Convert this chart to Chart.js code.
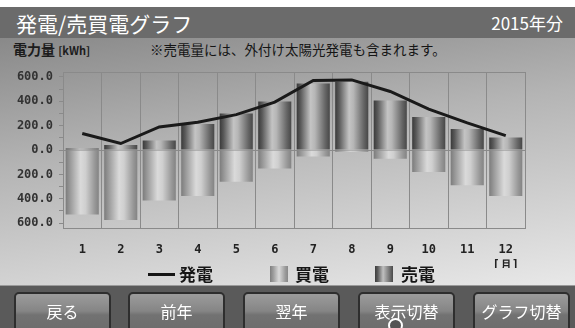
<!DOCTYPE html>
<html lang="ja">
<head>
<meta charset="UTF-8">
<title>発電/売買電グラフ</title>
<script src="https://cdn.jsdelivr.net/npm/chart.js"></script>
<style>
  html, body { margin: 0; padding: 0; }
  body { width: 575px; height: 328px; position: relative; overflow: hidden; background: #fff;
         font-family: "Noto Sans CJK JP", "Noto Sans", sans-serif; }
  .header { position: absolute; left: 0; top: 7px; width: 575px; height: 31px; background: #6b6b6b; }
  .title { position: absolute; left: 16px; top: 9px; font-size: 21px; color: #fff; line-height: 28px; }
  .year { position: absolute; right: 12px; top: 11px; font-size: 17px; color: #fff; line-height: 24px; }
  .body { position: absolute; left: 0; top: 38px; width: 575px; height: 247px;
          background: linear-gradient(172deg, #898989 0%, #b4b4b4 40%, #e8e8e8 100%); }
  .unit { position: absolute; left: 13px; top: 40px; font-size: 14px; font-weight: bold; color: #1c1c1c; line-height: 18px; }
  .unit small { font-size: 11px; }
  .note { position: absolute; left: 150px; top: 40px; font-size: 13.5px; color: #151515; line-height: 18px; }
  canvas { position: absolute; left: 0; top: 0; }
  .legend { position: absolute; top: 263px; left: 0; height: 22px; font-size: 17px; font-weight: bold; color: #151515; }
  .lg { position: absolute; top: 0; line-height: 22px; white-space: nowrap; }
  .swline { position: absolute; left: 148px; top: 10px; width: 27px; height: 3px; background: #151515; }
  .swbox { position: absolute; top: 3px; width: 18px; height: 16px; }
  .buy { background: linear-gradient(90deg, #7e7e7e, #a0a0a0 20%, #dadada 50%, #9a9a9a 85%, #888); }
  .sell { background: linear-gradient(90deg, #3c3c3c, #5a5a5a 15%, #c0c0c0 45%, #6a6a6a 85%, #4a4a4a); }
  .bar { position: absolute; left: 0; top: 285px; width: 575px; height: 43px; background: #5a5a5a; border-top: 1px solid #9a9a9a; box-sizing: border-box; }
  .btn { position: absolute; top: 292px; width: 97px; height: 42px; box-sizing: border-box;
         border: 2px solid #2e2e2e; border-radius: 5px; color: #fff; font-size: 16px; text-align: center;
         line-height: 34px; background: linear-gradient(180deg, #9c9c9c 0%, #858585 45%, #727272 55%, #6c6c6c 100%); }
  .ring { position: absolute; left: 388px; top: 318px; width: 11px; height: 11px; border: 2px solid #fff; border-radius: 50%; background: #555; }
</style>
</head>
<body>
<div class="header"></div>
<div class="title">発電/売買電グラフ</div>
<div class="year">2015年分</div>
<div class="body"></div>
<div class="unit">電力量 <small>[kWh]</small></div>
<div class="note">※売電量には、外付け太陽光発電も含まれます。</div>
<canvas id="c" width="575" height="328"></canvas>
<div class="legend">
  <div class="swline"></div><div class="lg" style="left:179px">発電</div>
  <div class="swbox buy" style="left:270px"></div><div class="lg" style="left:295px">買電</div>
  <div class="swbox sell" style="left:375px"></div><div class="lg" style="left:401px">売電</div>
</div>
<div class="bar"></div>
<div class="btn" style="left:14px">戻る</div>
<div class="btn" style="left:128px">前年</div>
<div class="btn" style="left:243px">翌年</div>
<div class="btn" style="left:358px">表示切替</div>
<div class="btn" style="left:473px">グラフ切替</div>
<div class="ring"></div>
<script>
const months = ['1', '2', '3', '4', '5', '6', '7', '8', '9', '10', '11', ['12', '[月]']];
const generation = [135, 53, 189, 227, 290, 393, 570, 575, 480, 336, 222, 118];
const purchased = [-530, -575, -415, -377, -260, -151, -53, -14, -72, -181, -290, -377];
const sold = [12, 42, 77, 214, 300, 398, 545, 561, 406, 271, 173, 102];
const yTicks = [-640, -600, -500, -400, -300, -200, -100, 0, 100, 200, 300, 400, 500, 600, 640];

const gridColor = '#8a8a8a';
const tickFont = { family: 'DejaVu Sans Mono', size: 12, weight: 'bold', lineHeight: 1.4 };

// cylinder look: horizontal gradient across each bar
function barGradient(ctx, stops) {
  const chart = ctx.chart;
  const xs = chart.scales.x;
  if (!chart.chartArea || !xs || ctx.type !== 'data') return '#999';
  const w = xs.width / months.length * 0.86;
  const cx = xs.getPixelForValue(ctx.dataIndex);
  const g = chart.ctx.createLinearGradient(cx - w / 2, 0, cx + w / 2, 0);
  stops.forEach(s => g.addColorStop(s[0], s[1]));
  return g;
}
const sellStops = [[0, '#3a3a3a'], [0.12, '#5a5a5a'], [0.42, '#c4c4c4'], [0.55, '#b6b6b6'], [0.86, '#666'], [1, '#474747']];
const buyStops = [[0, '#7c7c7c'], [0.15, '#9c9c9c'], [0.45, '#dadada'], [0.6, '#cfcfcf'], [0.88, '#979797'], [1, '#838383']];

new Chart(document.getElementById('c'), {
  type: 'bar',
  data: {
    labels: months,
    datasets: [
      { type: 'line', label: '発電', data: generation, borderColor: '#1a1a1a', borderWidth: 3,
        pointRadius: 0, tension: 0, order: 0 },
      { label: '買電', data: purchased, backgroundColor: c => barGradient(c, buyStops),
        barPercentage: 0.86, categoryPercentage: 1, grouped: false, order: 1 },
      { label: '売電', data: sold, backgroundColor: c => barGradient(c, sellStops),
        barPercentage: 0.86, categoryPercentage: 1, grouped: false, order: 1 }
    ]
  },
  options: {
    responsive: false,
    animation: false,
    layout: { padding: { top: 72, right: 50, bottom: 60, left: 0 } },
    plugins: { legend: { display: false }, tooltip: { enabled: false } },
    scales: {
      x: {
        afterFit: s => { s.height = 40; },
        grid: { offset: true, color: gridColor, drawTicks: false },
        border: { color: gridColor },
        ticks: { padding: 13, color: '#222', font: tickFont, autoSkip: false, maxRotation: 0 }
      },
      y: {
        min: -640, max: 640,
        afterBuildTicks: s => { s.ticks = yTicks.map(v => ({ value: v })); },
        afterFit: s => { s.width = 63; },
        border: { color: gridColor },
        grid: {
          color: c => (c.tick && (c.tick.value === 0 || Math.abs(c.tick.value) === 640)) ? gridColor : 'rgba(0,0,0,0)',
          tickColor: c => (c.tick && Math.abs(c.tick.value) === 640) ? 'rgba(0,0,0,0)' : gridColor,
          tickLength: 4
        },
        ticks: {
          autoSkip: false, padding: 6, color: '#333', font: tickFont,
          callback: v => (v % 200 === 0 && Math.abs(v) <= 600) ? Math.abs(v).toFixed(1) : ''
        }
      }
    }
  }
});
</script>
</body>
</html>
